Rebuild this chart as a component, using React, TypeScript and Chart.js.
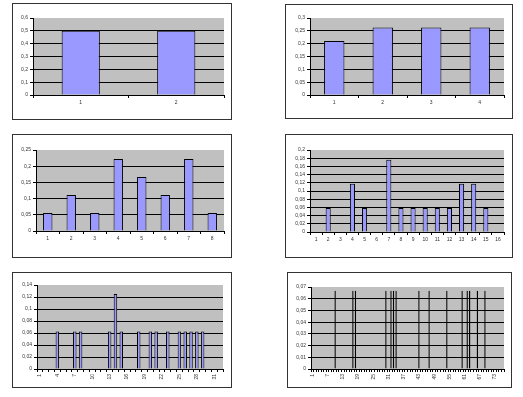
import React, { useEffect, useRef } from "react";
import { Chart, registerables } from "chart.js";

Chart.register(...registerables);

// ---------- data ----------
const cats1 = ["1", "2"];
const vals1 = [0.5, 0.5];

const cats2 = ["1", "2", "3", "4"];
const vals2 = [0.2105, 0.2632, 0.2632, 0.2632];

const cats3 = ["1", "2", "3", "4", "5", "6", "7", "8"];
const vals3 = [0.0556, 0.1111, 0.0556, 0.2222, 0.1667, 0.1111, 0.2222, 0.0556];

const cats4 = ["1", "2", "3", "4", "5", "6", "7", "8", "9", "10", "11", "12", "13", "14", "15", "16"];
const vals4 = [0, 0.0588, 0, 0.1176, 0.0588, 0, 0.1765, 0.0588, 0.0588, 0.0588, 0.0588, 0.0588, 0.1176, 0.1176, 0.0588, 0];

const cats5 = [
  "1", "2", "3", "4", "5", "6", "7", "8", "9", "10",
  "11", "12", "13", "14", "15", "16", "17", "18", "19", "20",
  "21", "22", "23", "24", "25", "26", "27", "28", "29", "30",
  "31", "32",
];
const vals5 = [
  0, 0, 0, 0.0625, 0, 0, 0.0625, 0.0625, 0, 0,
  0, 0, 0.0625, 0.125, 0.0625, 0, 0, 0.0625, 0, 0.0625,
  0.0625, 0, 0.0625, 0, 0.0625, 0.0625, 0.0625, 0.0625, 0.0625, 0,
  0, 0,
];

const cats6 = [
  "1", "2", "3", "4", "5", "6", "7", "8", "9", "10",
  "11", "12", "13", "14", "15", "16", "17", "18", "19", "20",
  "21", "22", "23", "24", "25", "26", "27", "28", "29", "30",
  "31", "32", "33", "34", "35", "36", "37", "38", "39", "40",
  "41", "42", "43", "44", "45", "46", "47", "48", "49", "50",
  "51", "52", "53", "54", "55", "56", "57", "58", "59", "60",
  "61", "62", "63", "64", "65", "66", "67", "68", "69", "70",
  "71", "72", "73", "74", "75", "76",
];
const vals6 = [
  0, 0, 0, 0, 0, 0, 0, 0, 0, 0.0667,
  0, 0, 0, 0, 0, 0, 0.0667, 0.0667, 0, 0,
  0, 0, 0, 0, 0, 0, 0, 0, 0, 0.0667,
  0, 0.0667, 0.0667, 0.0667, 0, 0, 0, 0, 0, 0,
  0, 0, 0.0667, 0, 0, 0, 0.0667, 0, 0, 0,
  0, 0, 0, 0.0667, 0, 0, 0, 0, 0, 0.0667,
  0, 0.0667, 0.0667, 0, 0, 0.0667, 0, 0, 0.0667, 0,
  0, 0, 0, 0, 0, 0,
];

const yMax = [0.6, 0.3, 0.25, 0.2, 0.14, 0.07];
const yStep = [0.1, 0.05, 0.05, 0.02, 0.02, 0.01];

// ---------- layout (page px) ----------
type Rect = [number, number, number, number];
interface Spec {
  box: Rect;
  plot: Rect;
  cats: string[];
  vals: number[];
  max: number;
  step: number;
  barPct: number;
  every: number;
  rot: number;
}

const specs: Spec[] = [
  { box: [12, 3, 232, 120], plot: [33, 18, 224, 95], cats: cats1, vals: vals1, max: yMax[0], step: yStep[0], barPct: 0.4, every: 1, rot: 0 },
  { box: [285, 4, 513, 119], plot: [310, 18, 504, 95], cats: cats2, vals: vals2, max: yMax[1], step: yStep[1], barPct: 0.42, every: 1, rot: 0 },
  { box: [12, 134, 232, 258], plot: [36, 150, 224, 231], cats: cats3, vals: vals3, max: yMax[2], step: yStep[2], barPct: 0.4, every: 1, rot: 0 },
  { box: [285, 134, 513, 258], plot: [310, 150, 504, 232], cats: cats4, vals: vals4, max: yMax[3], step: yStep[3], barPct: 0.42, every: 1, rot: 0 },
  { box: [12, 272, 232, 388], plot: [37, 285, 223, 369], cats: cats5, vals: vals5, max: yMax[4], step: yStep[4], barPct: 0.6, every: 3, rot: 90 },
  { box: [287, 272, 512, 388], plot: [311, 287, 504, 369], cats: cats6, vals: vals6, max: yMax[5], step: yStep[5], barPct: 0.55, every: 6, rot: 90 },
];

const FONT = { family: "'Liberation Sans', Arial, sans-serif", size: 5 };
const TEXT = "#333";

const fmt = (v: number) => (Math.round(v * 1000) / 1000).toString().replace(".", ",");

const bgPlugin = {
  id: "plotBg",
  beforeDraw(chart: any) {
    const { ctx, chartArea: a } = chart;
    ctx.save();
    ctx.fillStyle = "#c0c0c0";
    ctx.fillRect(a.left, a.top, a.right - a.left, a.bottom - a.top);
    ctx.restore();
  },
};

function Panel({ spec }: { spec: Spec }) {
  const ref = useRef<HTMLCanvasElement>(null);
  const [bl, bt, br, bb] = spec.box;
  const [pl, pt, pr, pb] = spec.plot;
  const cw = br - bl - 2;
  const ch = bb - bt - 2;

  useEffect(() => {
    const YW = 16;
    const XH = 14;
    const ox = bl + 1;
    const oy = bt + 1;
    const max = spec.max;
    const every = spec.every;
    const chart = new Chart(ref.current as HTMLCanvasElement, {
      type: "bar",
      data: {
        labels: spec.cats,
        datasets: [
          {
            data: spec.vals,
            backgroundColor: "#9999ff",
            borderColor: "#000",
            borderWidth: 1,
            barPercentage: spec.barPct,
            categoryPercentage: 1,
          },
        ],
      },
      options: {
        animation: false,
        responsive: false,
        devicePixelRatio: 1,
        events: [],
        layout: {
          padding: {
            left: pl - ox - YW,
            top: pt - oy,
            right: ox + cw - pr,
            bottom: oy + ch - pb - XH,
          },
        },
        plugins: { legend: { display: false }, tooltip: { enabled: false } },
        scales: {
          x: {
            afterFit: (s: any) => {
              s.height = XH;
              s.paddingLeft = 0;
              s.paddingRight = 0;
            },
            grid: {
              display: true,
              drawOnChartArea: false,
              drawTicks: true,
              tickLength: 3,
              color: "#000",
              offset: true,
            },
            border: { display: true, color: "#000", width: 1 },
            ticks: {
              autoSkip: false,
              maxRotation: spec.rot,
              minRotation: spec.rot,
              padding: 2,
              font: FONT,
              color: TEXT,
              callback: function (this: any, v: any, i: number) {
                return i % every === 0 ? this.getLabelForValue(v) : "";
              },
            },
          },
          y: {
            min: 0,
            max: max,
            afterFit: (s: any) => {
              s.width = YW;
              s.paddingTop = 0;
              s.paddingBottom = 0;
            },
            ticks: {
              stepSize: spec.step,
              autoSkip: false,
              padding: 2,
              font: FONT,
              color: TEXT,
              callback: (v: any) => fmt(Number(v)),
            },
            grid: {
              color: (c: any) =>
                c.tick && Math.abs(c.tick.value - max) < 1e-9 ? "rgba(0,0,0,0)" : "#000",
              tickColor: "#000",
              tickLength: 3,
            },
            border: { display: true, color: "#000", width: 1 },
          },
        },
      },
      plugins: [bgPlugin],
    } as any);
    return () => chart.destroy();
  }, []);

  return (
    <div
      style={{
        position: "absolute",
        left: bl,
        top: bt,
        width: br - bl,
        height: bb - bt,
        border: "1px solid #333",
        boxSizing: "border-box",
        background: "#fff",
      }}
    >
      <canvas ref={ref} width={cw} height={ch} style={{ display: "block" }} />
    </div>
  );
}

export default function App() {
  return (
    <div
      style={{
        position: "absolute",
        left: 0,
        top: 0,
        width: 523,
        height: 397,
        background: "#fff",
        overflow: "hidden",
      }}
    >
      {specs.map((s, i) => (
        <Panel key={i} spec={s} />
      ))}
    </div>
  );
}
